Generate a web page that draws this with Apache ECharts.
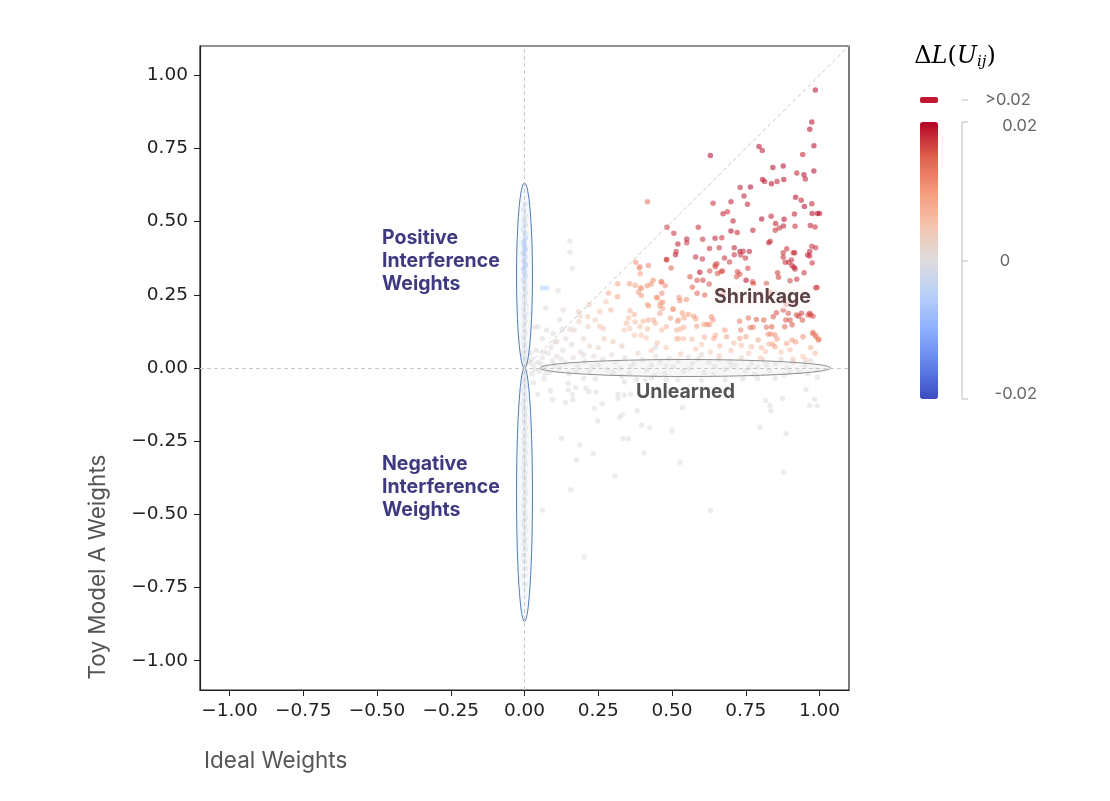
<!DOCTYPE html>
<html>
<head>
<meta charset="utf-8">
<script src="https://cdn.jsdelivr.net/npm/echarts@6/dist/echarts.min.js"></script>
<style>
    html, body {margin: 0; background: #fff;}
    #chart {width: 1110px; height: 801px;}
</style>
</head>
<body>
<div id="chart"></div>
<script>
// tick values shared by both axes
const xTicks = [-1, -0.75, -0.5, -0.25, 0, 0.25, 0.5, 0.75, 1]
const yTicks = [-1, -0.75, -0.5, -0.25, 0, 0.25, 0.5, 0.75, 1]
const colorTicks = ['0.02', '0', '-0.02']

// [ideal weight, toy model weight, delta loss]
const shrinkHigh = [
    [0.986,0.95,0.02],[0.974,0.84,0.02],[0.967,0.816,0.02],[0.981,0.759,0.02],[0.795,0.757,0.02],[0.806,0.743,0.019],
    [0.63,0.726,0.02],[0.943,0.729,0.019],[0.842,0.685,0.02],[0.877,0.69,0.02],[0.923,0.666,0.019],[0.947,0.66,0.02],
    [0.952,0.646,0.019],[0.981,0.673,0.02],[0.807,0.644,0.02],[0.814,0.637,0.019],[0.837,0.629,0.02],[0.856,0.637,0.019],
    [0.879,0.644,0.02],[0.731,0.617,0.019],[0.766,0.618,0.02],[0.744,0.588,0.019],[0.70,0.568,0.019],[0.639,0.563,0.018],
    [0.756,0.559,0.019],[0.919,0.583,0.02],[0.938,0.573,0.019],[0.949,0.552,0.02],[0.974,0.561,0.019],[0.975,0.528,0.02],
    [0.993,0.528,0.02],[1.0,0.528,0.02],[0.673,0.527,0.019],[0.688,0.534,0.018],[0.707,0.502,0.019],[0.804,0.509,0.02],
    [0.836,0.518,0.019],[0.851,0.494,0.019],[0.88,0.508,0.02],[0.864,0.478,0.018],[0.878,0.485,0.019],[0.915,0.526,0.019],
    [0.917,0.484,0.018],[0.969,0.487,0.019],[0.985,0.482,0.018],[0.483,0.481,0.018],[0.589,0.481,0.018],[0.70,0.468,0.02],
    [0.721,0.463,0.019],[0.774,0.471,0.019],[0.85,0.471,0.018],[0.55,0.441,0.019],[0.55,0.428,0.018],[0.52,0.424,0.019],
    [0.604,0.44,0.018],[0.646,0.443,0.019],[0.669,0.445,0.018],[0.828,0.428,0.019],[0.833,0.433,0.018],[0.889,0.407,0.018],
    [0.916,0.394,0.019],[0.974,0.416,0.018],[0.967,0.398,0.019],[0.514,0.398,0.018],[0.512,0.387,0.019],[0.627,0.408,0.018],
    [0.66,0.411,0.018],[0.711,0.411,0.019],[0.711,0.387,0.018],[0.73,0.398,0.019],[0.741,0.399,0.018],[0.762,0.398,0.019],
    [0.733,0.386,0.018],[0.749,0.376,0.018],[0.678,0.376,0.018],[0.58,0.379,0.018],[0.603,0.372,0.018],[0.481,0.37,0.017],
    [0.506,0.46,0.018],[0.482,0.371,0.017],[0.877,0.394,0.018],[0.911,0.394,0.018],[0.975,0.359,0.018],[0.96,0.386,0.019],
    [0.987,0.411,0.018],
]

const shrinkMid = [
    [0.417,0.568,0.014],[0.497,0.342,0.015],[0.652,0.356,0.017],[0.647,0.346,0.016],[0.695,0.362,0.017],[0.671,0.331,0.017],
    [0.666,0.329,0.016],[0.654,0.323,0.016],[0.594,0.327,0.02],[0.722,0.329,0.017],[0.73,0.32,0.016],[0.757,0.341,0.017],
    [0.751,0.30,0.02],[0.561,0.312,0.016],[0.585,0.30,0.016],[0.605,0.30,0.017],[0.626,0.287,0.016],[0.569,0.276,0.015],
    [0.585,0.255,0.015],[0.611,0.249,0.015],[0.776,0.288,0.017],[0.877,0.378,0.018],[0.884,0.361,0.018],[0.896,0.361,0.018],
    [0.905,0.369,0.018],[0.907,0.349,0.019],[0.914,0.344,0.018],[0.917,0.338,0.019],[0.948,0.325,0.018],[0.967,0.383,0.018],
    [0.861,0.31,0.017],[0.90,0.298,0.017],[0.923,0.303,0.018],[0.987,0.274,0.017],[0.88,0.232,0.017],[0.888,0.217,0.017],
    [0.914,0.219,0.017],[0.929,0.177,0.017],[0.942,0.164,0.016],[0.97,0.181,0.017],[0.967,0.187,0.017],[0.843,0.175,0.016],
    [0.854,0.189,0.016],[0.886,0.164,0.016],[0.882,0.141,0.015],[0.907,0.148,0.016],[0.786,0.166,0.015],[0.811,0.164,0.015],
    [0.82,0.139,0.014],[0.838,0.141,0.015],[0.775,0.139,0.013],[0.759,0.171,0.014],[0.733,0.13,0.012],[0.765,0.138,0.013],
    [0.729,0.16,0.013],[0.858,0.325,0.017],[0.992,0.275,0.017],[0.82,0.289,0.016],[0.832,0.26,0.016],[0.773,0.295,0.016],
    [0.719,0.312,0.016],[0.674,0.255,0.015],[0.628,0.331,0.016],[0.646,0.352,0.016],[0.877,0.198,0.016],[0.894,0.187,0.016],
    [0.9,0.164,0.016],[0.922,0.181,0.016],[0.939,0.187,0.017],[0.961,0.181,0.016],[0.978,0.177,0.016],[0.977,0.118,0.014],
    [0.988,0.107,0.013],[0.996,0.096,0.013],
]

const shrinkLow = [
    [0.634,0.175,0.011],[0.639,0.164,0.011],[0.628,0.149,0.01],[0.609,0.149,0.01],[0.62,0.149,0.011],[0.573,0.177,0.01],
    [0.581,0.168,0.01],[0.584,0.143,0.009],[0.555,0.184,0.01],[0.541,0.172,0.009],[0.522,0.164,0.009],[0.549,0.234,0.011],
    [0.527,0.23,0.011],[0.535,0.188,0.01],[0.504,0.20,0.01],[0.495,0.17,0.009],[0.459,0.212,0.01],[0.459,0.187,0.009],
    [0.438,0.164,0.008],[0.419,0.164,0.008],[0.463,0.295,0.012],[0.436,0.30,0.011],[0.416,0.281,0.011],[0.396,0.272,0.01],
    [0.447,0.241,0.011],[0.466,0.255,0.011],[0.469,0.225,0.01],[0.391,0.346,0.011],[0.42,0.35,0.012],[0.377,0.361,0.011],
    [0.389,0.342,0.011],[0.392,0.322,0.01],[0.429,0.287,0.011],[0.465,0.294,0.012],[0.477,0.281,0.011],[0.375,0.283,0.01],
    [0.356,0.288,0.01],[0.393,0.274,0.01],[0.386,0.259,0.01],[0.396,0.248,0.01],[0.316,0.288,0.009],[0.315,0.243,0.009],
    [0.285,0.256,0.008],[0.451,0.24,0.01],[0.462,0.223,0.01],[0.417,0.216,0.009],[0.421,0.212,0.009],[0.468,0.204,0.009],
    [0.503,0.202,0.01],[0.524,0.241,0.011],[0.679,0.13,0.01],[0.685,0.107,0.009],[0.826,0.115,0.011],[0.835,0.116,0.011],
    [0.849,0.113,0.011],[0.856,0.099,0.01],[0.944,0.107,0.011],[0.907,0.096,0.01],[0.919,0.089,0.01],[0.889,0.084,0.009],
    [0.841,0.081,0.009],[0.849,0.073,0.009],[0.978,0.122,0.012],[0.986,0.113,0.012],[0.998,0.099,0.011],[0.73,0.101,0.009],
    [0.751,0.107,0.009],[0.792,0.096,0.009],[0.642,0.101,0.008],[0.647,0.112,0.008],
]

const smallGain = [
    [0.516,0.13,0.007],[0.529,0.133,0.007],[0.541,0.139,0.007],[0.522,0.10,0.006],[0.539,0.10,0.006],[0.567,0.098,0.006],
    [0.61,0.105,0.007],[0.662,0.075,0.006],[0.735,0.078,0.006],[0.769,0.073,0.006],[0.803,0.069,0.006],[0.829,0.082,0.007],
    [0.817,0.056,0.005],[0.944,0.039,0.005],[0.954,0.027,0.004],[0.293,0.198,0.006],[0.358,0.196,0.007],[0.372,0.183,0.007],
    [0.353,0.171,0.006],[0.375,0.157,0.006],[0.346,0.153,0.006],[0.338,0.13,0.005],[0.357,0.135,0.005],[0.372,0.112,0.005],
    [0.402,0.16,0.006],[0.391,0.141,0.006],[0.417,0.133,0.006],[0.395,0.112,0.005],[0.412,0.103,0.005],[0.443,0.153,0.007],
    [0.465,0.13,0.006],[0.481,0.141,0.007],[0.519,0.16,0.008],[0.516,0.10,0.006],[0.255,0.192,0.005],[0.24,0.164,0.004],
    [0.255,0.143,0.004],[0.267,0.135,0.004],[0.215,0.141,0.003],[0.214,0.175,0.004],[0.276,0.226,0.005],[0.219,0.217,0.004],
    [0.182,0.192,0.003],[0.189,0.178,0.003],[0.168,0.13,0.002],[0.185,0.158,0.003],[0.3,0.09,0.004],[0.33,0.075,0.004],
    [0.45,0.085,0.005],[0.48,0.07,0.004],[0.58,0.065,0.005],[0.6,0.08,0.005],[0.7,0.06,0.005],[0.71,0.085,0.006],
    [0.76,0.05,0.004],[0.87,0.055,0.005],[0.9,0.062,0.006],[0.97,0.07,0.007],[0.985,0.05,0.006],[0.27,0.1,0.004],
    [0.25,0.07,0.003],[0.43,0.06,0.004],[0.53,0.048,0.004],[0.63,0.055,0.004],[0.66,0.042,0.004],[0.8,0.035,0.004],
    [0.91,0.03,0.004],
]

const unlearned = [
    [0.03,0.01,0],[0.045,0.02,0],[0.05,-0.01,0],[0.06,0.035,0],[0.07,0.005,0],[0.08,0.05,0.001],[0.085,-0.015,0],
    [0.095,0.025,0],[0.11,0.04,0.001],[0.12,0.0,0],[0.13,0.06,0.001],[0.14,0.018,0],[0.15,-0.02,0],[0.165,0.035,0.001],
    [0.18,0.008,0],[0.19,0.055,0.001],[0.205,0.022,0],[0.22,-0.012,0],[0.235,0.04,0.001],[0.25,0.012,0],[0.265,0.03,0.001],
    [0.28,-0.005,0],[0.295,0.045,0.001],[0.31,0.02,0],[0.325,0.0,0],[0.34,0.035,0.001],[0.355,-0.018,0],[0.37,0.015,0],
    [0.385,0.05,0.002],[0.4,0.028,0.001],[0.415,-0.008,0],[0.43,0.01,0],[0.445,0.04,0.001],[0.46,0.02,0],[0.475,-0.02,0],
    [0.49,0.032,0.001],[0.505,0.005,0],[0.52,0.025,0.001],[0.54,-0.01,0],[0.555,0.038,0.001],[0.57,0.015,0],[0.59,0.03,0.001],
    [0.61,-0.015,0],[0.625,0.02,0],[0.645,0.005,0],[0.66,0.03,0.001],[0.68,-0.005,0],[0.695,0.022,0.001],[0.715,0.01,0],
    [0.735,0.035,0.002],[0.75,-0.01,0],[0.77,0.018,0.001],[0.79,0.004,0],[0.81,0.028,0.001],[0.83,-0.008,0],[0.85,0.015,0.001],
    [0.87,0.03,0.002],[0.89,0.0,0],[0.91,0.02,0.001],[0.93,-0.012,0],[0.95,0.01,0],[0.97,0.025,0.001],[0.99,-0.005,0],
    [0.2,0.045,0.001],[0.6,0.045,0.002],[0.44,-0.025,0],[0.33,-0.028,0],[0.78,-0.022,0],[0.88,-0.025,0],[0.09,0.07,0.001],
    [0.11,0.09,0.001],[0.06,0.1,0],[0.075,0.13,0],[0.035,0.139,0],[0.046,0.141,0],[0.072,0.205,0],[0.114,0.265,0],
    [0.131,0.198,0.001],[0.119,0.166,0.001],[0.128,0.132,0.001],[0.154,0.132,0.002],[0.097,0.118,0.001],[0.103,0.09,0.001],
    [0.154,0.434,0],[0.154,0.395,0],[0.162,0.34,0],[0.06,0.273,-0.005],[0.075,0.273,-0.005],[0.02,0.05,0],[0.025,0.03,0],
    [0.04,0.06,0],[0.14,0.1,0.001],[0.16,0.08,0.001],[0.2,0.1,0.002],[0.22,0.075,0.002],[0.444,0.071,-0.002],
    [0.015,0.02,0],[0.035,-0.005,0],[0.055,0.015,0],[0.065,0.055,0],[0.1,0.01,0],[0.125,0.03,0],[0.175,-0.01,0],
    [0.23,0.005,0],[0.3,-0.015,0],[0.36,0.005,0],[0.48,0.008,0],[0.56,-0.002,0],[0.64,-0.022,0],[0.7,0.008,0],
    [0.76,0.002,0],[0.82,0.01,0],[0.9,-0.015,0],[0.96,-0.02,0],
]

const belowZero = [
    [0.066,-0.038,0],[0.089,-0.078,0],[0.095,-0.108,0],[0.045,-0.09,0],[0.148,-0.052,0],[0.148,-0.075,0],[0.173,-0.067,0],
    [0.162,-0.09,0],[0.164,-0.108,0],[0.139,-0.118,0],[0.208,-0.069,0],[0.218,-0.081,0],[0.242,-0.083,0],[0.236,-0.138,0],
    [0.263,-0.122,0],[0.248,-0.181,0],[0.338,-0.047,0],[0.317,-0.09,0],[0.338,-0.092,0],[0.36,-0.09,0],[0.317,-0.103,0],
    [0.331,-0.16,0],[0.322,-0.17,0],[0.382,-0.146,0],[0.397,-0.195,0],[0.424,-0.204,0],[0.334,-0.242,0],[0.352,-0.242,0],
    [0.125,-0.24,0],[0.187,-0.263,0],[0.233,-0.292,0],[0.176,-0.314,0],[0.405,-0.29,0],[0.5,-0.214,0],[0.527,-0.323,0],
    [0.306,-0.368,0],[0.157,-0.416,0],[0.06,-0.485,0],[0.631,-0.487,0],[0.202,-0.646,0],[0.535,-0.135,0],[0.798,-0.202,0],
    [0.887,-0.225,0],[0.878,-0.356,0],[0.817,-0.112,0],[0.832,-0.129,0],[0.835,-0.146,0],[0.875,-0.104,0],[0.954,-0.074,0],
    [0.984,-0.107,0],[0.967,-0.129,0],[0.992,-0.129,0],[0.992,-0.032,0],[0.43,-0.035,0],[0.48,-0.04,0],[0.52,-0.04,0],
    [0.6,-0.042,0],[0.68,-0.04,0],[0.74,-0.038,0],[0.79,-0.036,0],[0.85,-0.035,0],[0.2,-0.035,0],[0.24,-0.037,0],
    [0.38,-0.04,0],[0.41,-0.042,0],[0.03,-0.05,0],[0.025,-0.02,0],[0.07,-0.02,0],
]

// weights whose ideal value is zero
const interference = [
    [0.002,0.56,-0.001],[-0.002,0.54,-0.002],[0.003,0.52,-0.001],[-0.001,0.505,-0.002],[0.002,0.49,-0.003],[-0.003,0.475,-0.002],
    [0.001,0.46,-0.004],[0.003,0.445,-0.007],[-0.002,0.43,-0.009],[0.0,0.418,-0.008],[0.002,0.405,-0.01],[-0.003,0.392,-0.009],
    [0.001,0.38,-0.007],[-0.001,0.365,-0.008],[0.003,0.352,-0.01],[-0.002,0.34,-0.009],[0.0,0.327,-0.007],[0.002,0.313,-0.006],
    [-0.003,0.3,-0.005],[0.001,0.286,-0.003],[-0.001,0.272,-0.002],[0.003,0.258,-0.002],[-0.002,0.244,-0.001],[0.0,0.23,-0.001],
    [0.002,0.216,-0.001],[-0.003,0.202,0],[0.001,0.188,-0.001],[-0.001,0.174,0],[0.003,0.16,0],[-0.002,0.146,0],
    [0.0,0.132,0],[0.002,0.118,0],[-0.003,0.104,0],[0.001,0.09,0],[-0.001,0.076,0],[0.002,0.062,0],[-0.002,0.048,0],
    [0.0,0.034,0],[0.003,0.02,0],[-0.001,0.006,0],[0.002,-0.008,0],[-0.003,-0.022,0],[0.001,-0.036,0],[-0.001,-0.05,0],
    [0.003,-0.064,0],[-0.002,-0.078,0],[0.0,-0.092,0],[0.002,-0.106,0],[-0.003,-0.12,0],[0.001,-0.134,0],[-0.001,-0.148,0],
    [0.002,-0.162,0],[-0.002,-0.176,0],[0.0,-0.19,0],[0.003,-0.204,0],[-0.001,-0.218,0],[0.002,-0.232,0],[-0.003,-0.246,0],
    [0.001,-0.26,0],[-0.001,-0.274,0],[0.003,-0.288,0],[-0.002,-0.302,0],[0.0,-0.316,0],[0.002,-0.33,0],[-0.003,-0.344,0],
    [0.001,-0.358,0],[-0.001,-0.372,0],[0.002,-0.386,0],[-0.002,-0.4,0],[0.0,-0.414,0],[0.003,-0.428,0],[-0.001,-0.442,0],
    [0.002,-0.456,0],[-0.003,-0.47,0],[0.001,-0.484,0],[-0.001,-0.498,0],[0.003,-0.512,0],[-0.002,-0.526,0],[0.0,-0.54,0],
    [0.002,-0.555,0],[-0.003,-0.57,0],[0.001,-0.586,0],[-0.001,-0.602,0],[0.002,-0.62,0],[-0.002,-0.64,0],[0.0,-0.66,0],
    [0.003,-0.685,0],[-0.001,-0.71,0],[0.001,-0.74,0],
]

// [cx, cy, rx, ry] in data units
const interferenceRegions = [[0, 0.316, 0.027, 0.316], [0, -0.433, 0.027, 0.433]]
const unlearnedRegion = [[0.545, 0, 0.492, 0.029]]

const coolwarm = ['#3b4cc0', '#6282ea', '#8db0fe', '#b8d0f9', '#dddcdc', '#f5c4ad', '#f49a7b', '#de604d', '#b40426']

const fmtTick = v => v.toFixed(2).replace('-', '\u2212')

const ellipseItem = style => (params, api) => {
    const c = api.coord([api.value(0), api.value(1)])
    const s = api.size([api.value(2), api.value(3)])
    return {
        type: 'ellipse',
        shape: {cx: c[0], cy: c[1], rx: s[0], ry: s[1]},
        style: style,
    }
}

const chart = echarts.init(document.getElementById('chart'))

chart.setOption({
    animation: false,
    backgroundColor: '#fff',
    grid: {
        left: 200, right: 261, top: 46, bottom: 111,
        show: true, borderColor: '#222', borderWidth: 1.2,
    },
    xAxis: {
        type: 'value', min: -1.1, max: 1.1,
        splitLine: {show: false},
        axisLine: {show: true, onZero: false, lineStyle: {color: '#222', width: 1.2}},
        axisTick: {show: true, customValues: xTicks, length: 6, lineStyle: {color: '#222'}},
        axisLabel: {customValues: xTicks, formatter: fmtTick, fontFamily: 'DejaVu Sans', fontSize: 18.5, color: '#222', margin: 12},
    },
    yAxis: {
        type: 'value', min: -1.1, max: 1.1,
        splitLine: {show: false},
        axisLine: {show: true, onZero: false, lineStyle: {color: '#222', width: 1.2}},
        axisTick: {show: true, customValues: yTicks, length: 6, lineStyle: {color: '#222'}},
        axisLabel: {customValues: yTicks, formatter: fmtTick, fontFamily: 'DejaVu Sans', fontSize: 18.5, color: '#222', margin: 12},
    },
    visualMap: {
        type: 'continuous',
        min: -0.02, max: 0.02,
        dimension: 2,
        seriesIndex: 0,
        calculable: false,
        hoverLink: false,
        showLabel: false,
        text: null,
        orient: 'vertical',
        left: 920, top: 122,
        padding: 0,
        itemWidth: 18, itemHeight: 277,
        inRange: {color: coolwarm},
    },
    series: [
        {
            type: 'scatter',
            symbolSize: 5.5,
            itemStyle: {opacity: 0.55},
            data: [...belowZero, ...unlearned, ...smallGain, ...interference, ...shrinkLow, ...shrinkMid, ...shrinkHigh],
            markLine: {
                silent: true,
                symbol: 'none',
                label: {show: false},
                lineStyle: {color: '#c8c8c8', type: [4, 3], width: 1},
                data: [
                    {yAxis: 0},
                    {xAxis: 0},
                    [{coord: [0, 0]}, {coord: [1.1, 1.1]}],
                ],
            },
            z: 2,
        },
        {
            type: 'custom',
            data: interferenceRegions,
            renderItem: ellipseItem({fill: 'rgba(215,228,243,0.25)', stroke: '#4d7cb3', lineWidth: 1}),
            silent: true,
            z: 3,
        },
        {
            type: 'custom',
            data: unlearnedRegion,
            renderItem: ellipseItem({fill: 'rgba(232,232,232,0.35)', stroke: '#8c8c8c', lineWidth: 1}),
            silent: true,
            z: 3,
        },
    ],
    graphic: [
        {type: 'text', x: 382, y: 227, z: 10, style: {text: 'Positive\nInterference\nWeights', fontFamily: 'Inter', fontWeight: 'bold', fontSize: 19.5, lineHeight: 23, fill: '#3d3a80'}},
        {type: 'text', x: 382, y: 453, z: 10, style: {text: 'Negative\nInterference\nWeights', fontFamily: 'Inter', fontWeight: 'bold', fontSize: 19.5, lineHeight: 23, fill: '#3d3a80'}},
        {type: 'text', x: 712, y: 297, z: 10, style: {text: 'Shrinkage', fontFamily: 'Inter', fontWeight: 'bold', fontSize: 19.5, fill: '#5c4345', textVerticalAlign: 'middle', backgroundColor: 'rgba(255,248,248,0.6)', padding: [2, 2]}},
        {type: 'text', x: 636, y: 392, z: 10, style: {text: 'Unlearned', fontFamily: 'Inter', fontWeight: 'bold', fontSize: 19.5, fill: '#555', textVerticalAlign: 'middle'}},
        {type: 'text', x: 204, y: 761, style: {text: 'Ideal Weights', fontFamily: 'Inter', fontSize: 22.5, fill: '#555', textVerticalAlign: 'middle'}},
        {type: 'text', x: 98, y: 567, rotation: Math.PI / 2, style: {text: 'Toy Model A Weights', fontFamily: 'Inter', fontSize: 22.5, fill: '#555', textAlign: 'center', textVerticalAlign: 'middle'}},
        // colour bar extras
        {type: 'text', x: 955, y: 57, style: {
            text: '{u|\u0394}{i|L}{u|(}{i|U}{s|ij}{u|)}',
            textAlign: 'center', textVerticalAlign: 'middle',
            rich: {
                u: {fontFamily: 'DejaVu Serif', fontSize: 24, color: '#333'},
                i: {fontFamily: 'DejaVu Serif', fontStyle: 'italic', fontSize: 24, color: '#333'},
                s: {fontFamily: 'DejaVu Serif', fontStyle: 'italic', fontSize: 15, color: '#333', verticalAlign: 'bottom', padding: [10, 0, 0, 0]},
            },
        }},
        {type: 'rect', shape: {x: 920, y: 97, width: 18, height: 6, r: 2}, style: {fill: '#c1172f'}},
        {type: 'line', shape: {x1: 962, y1: 100, x2: 968, y2: 100}, style: {stroke: '#bbb', lineWidth: 1}},
        {type: 'polyline', shape: {points: [[968, 122], [962, 122], [962, 399], [968, 399]]}, style: {stroke: '#bbb', lineWidth: 1, fill: null}},
        {type: 'line', shape: {x1: 962, y1: 261, x2: 968, y2: 261}, style: {stroke: '#bbb', lineWidth: 1}},
        {type: 'text', x: 985, y: 100, style: {text: '>0.02', fontFamily: 'Inter', fontSize: 16.5, fill: '#666', textVerticalAlign: 'middle'}},
        {type: 'text', x: 1037, y: 126, style: {text: colorTicks[0], fontFamily: 'Inter', fontSize: 16.5, fill: '#666', textAlign: 'right', textVerticalAlign: 'middle'}},
        {type: 'text', x: 1005, y: 261, style: {text: colorTicks[1], fontFamily: 'Inter', fontSize: 16.5, fill: '#666', textAlign: 'center', textVerticalAlign: 'middle'}},
        {type: 'text', x: 1037, y: 394, style: {text: colorTicks[2], fontFamily: 'Inter', fontSize: 16.5, fill: '#666', textAlign: 'right', textVerticalAlign: 'middle'}},
    ],
})
</script>
</body>
</html>
